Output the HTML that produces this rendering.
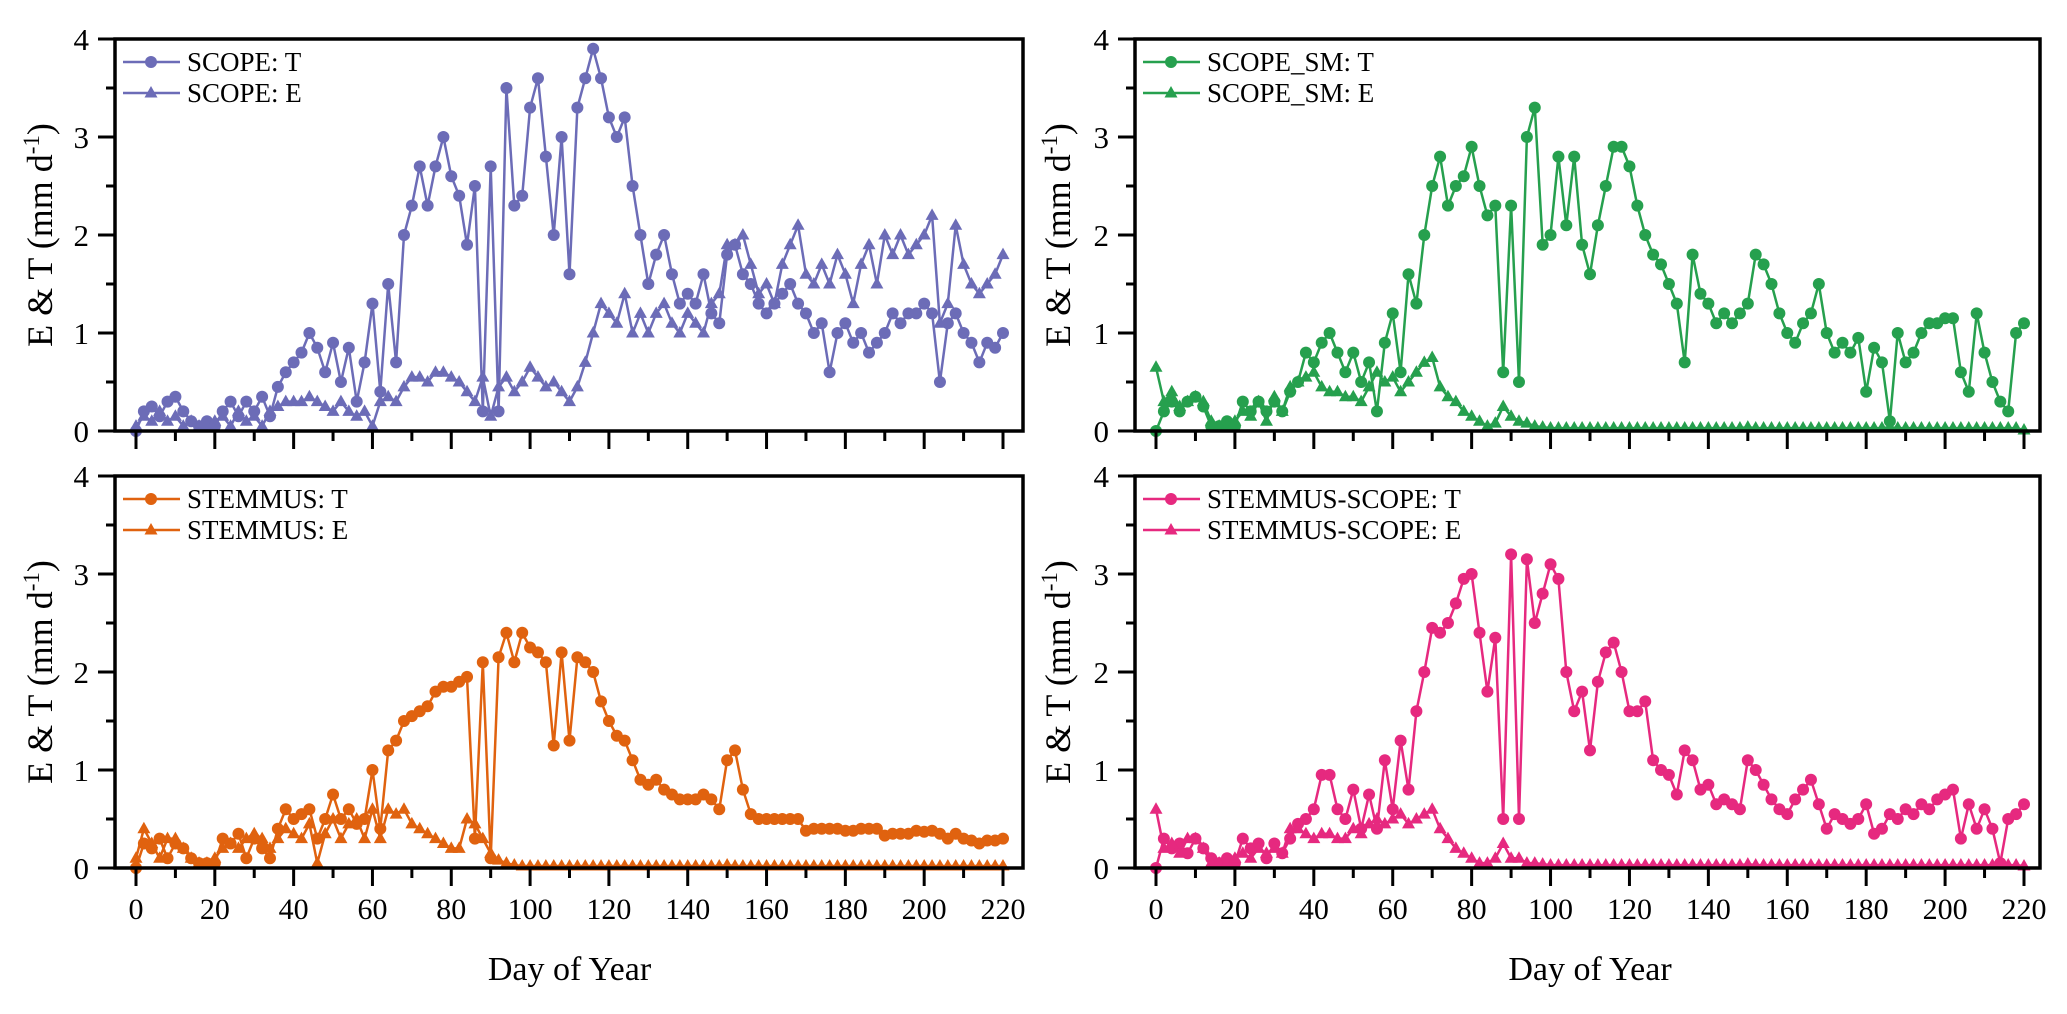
<!DOCTYPE html>
<html><head><meta charset="utf-8"><style>
html,body{margin:0;padding:0;background:#fff;}
svg{display:block;font-family:"Liberation Serif",serif;}
</style></head><body>
<svg id="chart" width="2067" height="1014" viewBox="0 0 2067 1014" xmlns="http://www.w3.org/2000/svg"></svg>
<script>
const days = [0,2,4,6,8,10,12,14,16,18,20,22,24,26,28,30,32,34,36,38,40,42,44,46,48,50,52,54,56,58,60,62,64,66,68,70,72,74,76,78,80,82,84,86,88,90,92,94,96,98,100,102,104,106,108,110,112,114,116,118,120,122,124,126,128,130,132,134,136,138,140,142,144,146,148,150,152,154,156,158,160,162,164,166,168,170,172,174,176,178,180,182,184,186,188,190,192,194,196,198,200,202,204,206,208,210,212,214,216,218,220];
const xTicks = [0,20,40,60,80,100,120,140,160,180,200,220];
const yTicks = [0,1,2,3,4];
const scopeT = [0.0,0.2,0.25,0.15,0.3,0.35,0.2,0.1,0.05,0.1,0.05,0.2,0.3,0.15,0.3,0.2,0.35,0.15,0.45,0.6,0.7,0.8,1.0,0.85,0.6,0.9,0.5,0.85,0.3,0.7,1.3,0.4,1.5,0.7,2.0,2.3,2.7,2.3,2.7,3.0,2.6,2.4,1.9,2.5,0.2,2.7,0.2,3.5,2.3,2.4,3.3,3.6,2.8,2.0,3.0,1.6,3.3,3.6,3.9,3.6,3.2,3.0,3.2,2.5,2.0,1.5,1.8,2.0,1.6,1.3,1.4,1.3,1.6,1.2,1.1,1.8,1.9,1.6,1.5,1.3,1.2,1.3,1.4,1.5,1.3,1.2,1.0,1.1,0.6,1.0,1.1,0.9,1.0,0.8,0.9,1.0,1.2,1.1,1.2,1.2,1.3,1.2,0.5,1.1,1.2,1.0,0.9,0.7,0.9,0.85,1.0];
const scopeE = [0.05,0.15,0.1,0.2,0.1,0.15,0.05,0.1,0.05,0.05,0.1,0.15,0.05,0.2,0.1,0.15,0.05,0.2,0.25,0.3,0.3,0.3,0.35,0.3,0.25,0.2,0.3,0.2,0.15,0.2,0.05,0.3,0.35,0.3,0.45,0.55,0.55,0.5,0.6,0.6,0.55,0.5,0.4,0.3,0.55,0.15,0.45,0.55,0.4,0.5,0.65,0.55,0.45,0.5,0.4,0.3,0.45,0.7,1.0,1.3,1.2,1.1,1.4,1.0,1.2,1.0,1.2,1.3,1.1,1.0,1.2,1.1,1.0,1.3,1.4,1.9,1.9,2.0,1.7,1.4,1.5,1.3,1.7,1.9,2.1,1.6,1.5,1.7,1.5,1.8,1.6,1.3,1.7,1.9,1.5,2.0,1.8,2.0,1.8,1.9,2.0,2.2,1.1,1.3,2.1,1.7,1.5,1.4,1.5,1.6,1.8];
const smT = [0.0,0.2,0.3,0.2,0.3,0.35,0.25,0.05,0.05,0.1,0.05,0.3,0.2,0.3,0.2,0.3,0.2,0.4,0.5,0.8,0.7,0.9,1.0,0.8,0.6,0.8,0.5,0.7,0.2,0.9,1.2,0.6,1.6,1.3,2.0,2.5,2.8,2.3,2.5,2.6,2.9,2.5,2.2,2.3,0.6,2.3,0.5,3.0,3.3,1.9,2.0,2.8,2.1,2.8,1.9,1.6,2.1,2.5,2.9,2.9,2.7,2.3,2.0,1.8,1.7,1.5,1.3,0.7,1.8,1.4,1.3,1.1,1.2,1.1,1.2,1.3,1.8,1.7,1.5,1.2,1.0,0.9,1.1,1.2,1.5,1.0,0.8,0.9,0.8,0.95,0.4,0.85,0.7,0.1,1.0,0.7,0.8,1.0,1.1,1.1,1.15,1.15,0.6,0.4,1.2,0.8,0.5,0.3,0.2,1.0,1.1];
const smE = [0.65,0.3,0.4,0.25,0.3,0.35,0.3,0.1,0.05,0.05,0.1,0.2,0.15,0.3,0.1,0.35,0.2,0.45,0.5,0.55,0.6,0.45,0.4,0.4,0.35,0.35,0.3,0.45,0.6,0.5,0.55,0.4,0.5,0.6,0.7,0.75,0.45,0.35,0.3,0.2,0.15,0.1,0.05,0.08,0.25,0.15,0.1,0.08,0.05,0.04,0.03,0.03,0.03,0.03,0.03,0.03,0.03,0.03,0.03,0.03,0.03,0.03,0.03,0.03,0.03,0.03,0.03,0.03,0.03,0.03,0.03,0.03,0.03,0.03,0.03,0.04,0.03,0.03,0.03,0.03,0.03,0.03,0.03,0.03,0.03,0.03,0.03,0.03,0.03,0.03,0.03,0.03,0.03,0.04,0.03,0.03,0.03,0.03,0.03,0.03,0.03,0.03,0.03,0.03,0.03,0.03,0.03,0.03,0.03,0.03,0.01];
const stT = [0.0,0.25,0.2,0.3,0.1,0.25,0.2,0.1,0.05,0.05,0.05,0.3,0.25,0.35,0.1,0.3,0.2,0.1,0.4,0.6,0.5,0.55,0.6,0.3,0.5,0.75,0.5,0.6,0.45,0.5,1.0,0.4,1.2,1.3,1.5,1.55,1.6,1.65,1.8,1.85,1.85,1.9,1.95,0.3,2.1,0.1,2.15,2.4,2.1,2.4,2.25,2.2,2.1,1.25,2.2,1.3,2.15,2.1,2.0,1.7,1.5,1.35,1.3,1.1,0.9,0.85,0.9,0.8,0.75,0.7,0.7,0.7,0.75,0.7,0.6,1.1,1.2,0.8,0.55,0.5,0.5,0.5,0.5,0.5,0.5,0.38,0.4,0.4,0.4,0.4,0.38,0.38,0.4,0.4,0.4,0.33,0.35,0.35,0.35,0.38,0.37,0.38,0.35,0.3,0.35,0.3,0.28,0.25,0.28,0.28,0.3];
const stE = [0.1,0.4,0.25,0.1,0.3,0.3,0.2,0.1,0.05,0.05,0.1,0.2,0.25,0.2,0.3,0.35,0.3,0.2,0.3,0.4,0.35,0.3,0.45,0.05,0.35,0.5,0.3,0.45,0.5,0.3,0.6,0.3,0.6,0.55,0.6,0.45,0.4,0.35,0.3,0.25,0.2,0.2,0.5,0.45,0.3,0.15,0.08,0.05,0.03,0.02,0.02,0.02,0.02,0.02,0.02,0.02,0.02,0.02,0.02,0.02,0.02,0.02,0.02,0.02,0.02,0.02,0.02,0.02,0.02,0.02,0.02,0.02,0.02,0.02,0.02,0.03,0.02,0.02,0.02,0.02,0.02,0.02,0.02,0.02,0.02,0.02,0.02,0.02,0.02,0.02,0.02,0.02,0.02,0.02,0.02,0.02,0.02,0.02,0.02,0.02,0.02,0.02,0.02,0.02,0.02,0.02,0.02,0.02,0.02,0.02,0.02];
const ssT = [0.0,0.3,0.2,0.25,0.15,0.3,0.2,0.1,0.05,0.1,0.05,0.3,0.2,0.25,0.1,0.25,0.15,0.3,0.45,0.5,0.6,0.95,0.95,0.6,0.5,0.8,0.4,0.75,0.4,1.1,0.6,1.3,0.8,1.6,2.0,2.45,2.4,2.5,2.7,2.95,3.0,2.4,1.8,2.35,0.5,3.2,0.5,3.15,2.5,2.8,3.1,2.95,2.0,1.6,1.8,1.2,1.9,2.2,2.3,2.0,1.6,1.6,1.7,1.1,1.0,0.95,0.75,1.2,1.1,0.8,0.85,0.65,0.7,0.65,0.6,1.1,1.0,0.85,0.7,0.6,0.55,0.7,0.8,0.9,0.65,0.4,0.55,0.5,0.45,0.5,0.65,0.35,0.4,0.55,0.5,0.6,0.55,0.65,0.6,0.7,0.75,0.8,0.3,0.65,0.4,0.6,0.4,0.05,0.5,0.55,0.65];
const ssE = [0.6,0.2,0.25,0.15,0.3,0.3,0.2,0.05,0.05,0.05,0.1,0.15,0.1,0.2,0.15,0.2,0.15,0.4,0.4,0.35,0.3,0.35,0.35,0.3,0.3,0.4,0.35,0.45,0.5,0.45,0.5,0.55,0.45,0.5,0.55,0.6,0.4,0.3,0.2,0.15,0.1,0.05,0.05,0.1,0.25,0.1,0.1,0.05,0.05,0.04,0.03,0.03,0.03,0.03,0.03,0.03,0.03,0.03,0.03,0.03,0.03,0.03,0.03,0.03,0.03,0.03,0.03,0.03,0.03,0.03,0.03,0.03,0.03,0.03,0.03,0.04,0.03,0.03,0.03,0.03,0.03,0.03,0.03,0.03,0.03,0.03,0.03,0.03,0.03,0.03,0.03,0.03,0.03,0.03,0.03,0.03,0.03,0.03,0.03,0.03,0.03,0.03,0.03,0.03,0.03,0.03,0.03,0.03,0.03,0.03,0.02];

const NS = "http://www.w3.org/2000/svg";
const svg = document.getElementById('chart');
function mk(tag, attrs, parent){ const e=document.createElementNS(NS,tag); for(const k in attrs) e.setAttribute(k,attrs[k]); (parent||svg).appendChild(e); return e; }

const panels = [
  {key:'scope', L:115, R:1023, x0:136, x220:1003, top:39, y0:431, color:'#6c6cb7', T:scopeT, E:scopeE, nameT:'SCOPE: T', nameE:'SCOPE: E', titleX:40},
  {key:'scope-sm', L:1135, R:2040, x0:1156, x220:2024, top:39, y0:431, color:'#26a04e', T:smT, E:smE, nameT:'SCOPE_SM: T', nameE:'SCOPE_SM: E', titleX:1058},
  {key:'stemmus', L:115, R:1023, x0:136, x220:1003, top:476, y0:868, color:'#e0620f', T:stT, E:stE, nameT:'STEMMUS: T', nameE:'STEMMUS: E', titleX:40},
  {key:'stemmus-scope', L:1135, R:2040, x0:1156, x220:2024, top:476, y0:868, color:'#e6297f', T:ssT, E:ssE, nameT:'STEMMUS-SCOPE: T', nameE:'STEMMUS-SCOPE: E', titleX:1058}
];

panels.forEach(p=>{
  const g = mk('g',{});
  
  
  const xs = d => p.x0 + (p.x220-p.x0)*d/220;
  const ys = v => p.y0 - (p.y0-p.top)*v/4;
  [['t',p.T],['e',p.E]].forEach(([s,vals])=>{
    const pts = days.map((d,i)=>xs(d).toFixed(1)+','+ys(vals[i]).toFixed(1)).join(' ');
    const line = mk('polyline',{points:pts,fill:'none',stroke:p.color,'stroke-width':2.5},g);
    
    
    days.forEach((d,i)=>{
      const cx=xs(d), cy=ys(vals[i]);
      let m;
      if(s==='t') m = mk('circle',{cx:cx,cy:cy,r:6,fill:p.color},g);
      else m = mk('polygon',{points:`${cx},${cy-7} ${cx-6.5},${cy+4.5} ${cx+6.5},${cy+4.5}`,fill:p.color},g);
      
      
    });
  });
  const frame = mk('path',{d:`M${p.L},${p.y0} L${p.L},${p.top} L${p.R},${p.top} L${p.R},${p.y0} Z`,fill:'none',stroke:'#000','stroke-width':3.5},g);
  
  
  yTicks.forEach(v=>{
    const y=ys(v);
    const t=mk('line',{x1:p.L-17,x2:p.L,y1:y,y2:y,stroke:'#000','stroke-width':3},g);
    
    
    const lb=mk('text',{x:p.L-26,y:y+11,'font-size':31,'text-anchor':'end',fill:'#000'},g);
    lb.textContent=v;
    
    
    if(v<4){
      const m=mk('line',{x1:p.L-9,x2:p.L,y1:ys(v+0.5),y2:ys(v+0.5),stroke:'#000','stroke-width':3},g);
      
      
    }
  });
  xTicks.forEach((d,i)=>{
    const x=xs(d);
    const t=mk('line',{x1:x,x2:x,y1:p.y0,y2:p.y0+18,stroke:'#000','stroke-width':3},g);
    
    
    if(i<xTicks.length-1){
      const m=mk('line',{x1:xs(d+10),x2:xs(d+10),y1:p.y0,y2:p.y0+10,stroke:'#000','stroke-width':3},g);
      
      
    }
    if(p.top>300){
      const lb=mk('text',{x:x,y:p.y0+51,'font-size':30,'text-anchor':'middle',fill:'#000'},g);
      lb.textContent=d;
      
      
    }
  });
  const cy=(p.top+p.y0)/2;
  const yt=mk('text',{x:0,y:0,'font-size':36,'text-anchor':'middle',fill:'#000',transform:`translate(${p.titleX+12},${cy}) rotate(-90)`},g);
  yt.innerHTML='E &amp; T (mm d<tspan dy="-13" font-size="23">-1</tspan><tspan dy="13">)</tspan>';
  
  
  [['t',0],['e',1]].forEach(([s,k])=>{
    const ly=p.top+23+k*31;
    const lg=mk('g',{},g);
    
    
    mk('line',{x1:p.L+8,x2:p.L+65,y1:ly,y2:ly,stroke:p.color,'stroke-width':2.5},lg);
    const cx=p.L+36;
    if(s==='t') mk('circle',{cx:cx,cy:ly,r:6,fill:p.color},lg);
    else mk('polygon',{points:`${cx},${ly-7} ${cx-6.5},${ly+4.5} ${cx+6.5},${ly+4.5}`,fill:p.color},lg);
    const tx=mk('text',{x:p.L+72,y:ly+9,'font-size':27,fill:'#000'},lg);
    tx.textContent = s==='t'?p.nameT:p.nameE;
  });
  if(p.top>300){
    const xt=mk('text',{x:(p.x0+p.x220)/2,y:980,'font-size':34,'text-anchor':'middle',fill:'#000'},g);
    xt.textContent='Day of  Year';
    
    
  }
});
</script>
</body></html>
